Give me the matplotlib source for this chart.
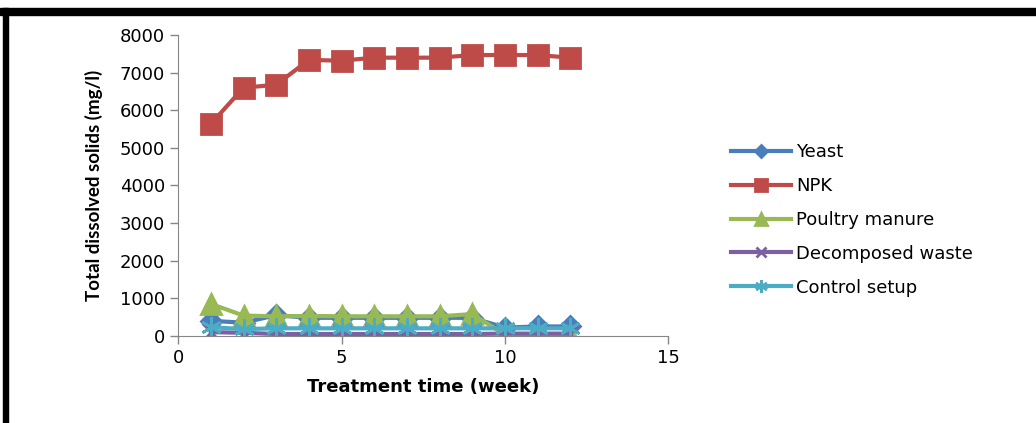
import matplotlib
matplotlib.use("Agg")
import matplotlib.pyplot as plt
from matplotlib.patches import Rectangle

# dados
semanas = [1, 2, 3, 4, 5, 6, 7, 8, 9, 10, 11, 12]
yeast = [400, 350, 550, 480, 480, 480, 480, 480, 480, 220, 250, 250]
npk = [5640, 6600, 6680, 7340, 7320, 7400, 7400, 7400, 7470, 7470, 7470, 7400]
poultry = [850, 540, 520, 530, 520, 520, 520, 520, 580, 30, 30, 30]
decomposed = [100, 80, 50, 50, 50, 50, 50, 50, 50, 60, 60, 60]
control = [230, 180, 200, 200, 200, 200, 200, 200, 200, 200, 200, 200]

series = [
    ("Yeast", yeast, "#4A7EBB", "D", 10),
    ("NPK", npk, "#BE4B48", "s", 14),
    ("Poultry manure", poultry, "#98B954", "^", 14),
    ("Decomposed waste", decomposed, "#7D60A0", "x", 13),
    ("Control setup", control, "#4BACC6", (6, 2, 0), 15),
]

fig = plt.figure(figsize=(10.36, 4.23), dpi=100)
ax = fig.add_axes([0.172, 0.206, 0.473, 0.711])

for nome, valores, cor, marcador, tam in series:
    ax.plot(semanas, valores, color=cor, lw=3, marker=marcador, markersize=tam,
            markeredgecolor=cor, markeredgewidth=2, label=nome)

ax.set_xlim(0, 15)
ax.set_ylim(0, 8000)
ax.set_xticks([0, 5, 10, 15])
ax.set_yticks(range(0, 8001, 1000))
ax.tick_params(labelsize=13, colors="#868686", labelcolor="black", length=6, width=1)
for lado in ["top", "right"]:
    ax.spines[lado].set_visible(False)
for lado in ["left", "bottom"]:
    ax.spines[lado].set_color("#868686")

ax.set_xlabel("Treatment time (week)", fontsize=13, fontweight="bold", labelpad=8)
ax.set_ylabel("Total dissolved solids (mg/l)", fontsize=13.5, fontweight="bold",
              family="Lato", labelpad=12)

fig.legend(loc="upper left", bbox_to_anchor=(0.69, 0.70), frameon=False,
           fontsize=13, handlelength=3.3, labelspacing=0.88, handletextpad=0.3,
           markerscale=0.6)

# moldura preta em cima e na esquerda
fig.patches.append(Rectangle((0, 1 - 15 / 423), 1, 7 / 423, transform=fig.transFigure,
                             color="black", zorder=10))
fig.patches.append(Rectangle((3 / 1036, 0), 5 / 1036, 1 - 8 / 423, transform=fig.transFigure,
                             color="black", zorder=10))

plt.savefig("out.png", dpi=100)
plt.close()
